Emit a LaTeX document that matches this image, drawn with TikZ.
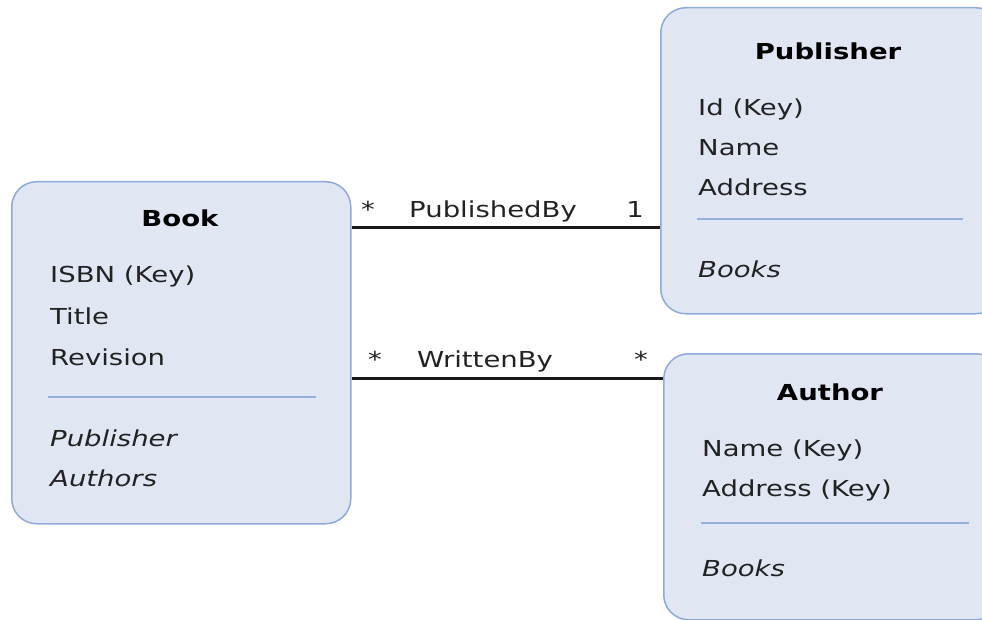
\documentclass[tikz,border=0pt]{standalone}
\usepackage{fontspec}
\setmainfont{DejaVu Sans}[FakeStretch=1.25]
\definecolor{boxfill}{RGB}{224,231,243}
\definecolor{boxborder}{RGB}{143,170,218}
\definecolor{sepcolor}{RGB}{150,176,220}
\definecolor{txt}{RGB}{34,34,34}
\definecolor{linecolor}{RGB}{25,25,25}
\newcommand{\diafont}{\fontsize{22}{26}\selectfont}
\tikzset{
  entity/.style={draw=boxborder, fill=boxfill, line width=1.5pt, rounded corners=25pt, anchor=north west, inner sep=0pt},
  attr/.style={anchor=base west, inner sep=0pt, font=\diafont, text=txt},
  nav/.style={anchor=base west, inner sep=0pt, font=\diafont\itshape, text=txt},
  ttl/.style={anchor=base, inner sep=0pt, font=\diafont\bfseries, text=black},
  lbl/.style={anchor=base, inner sep=0pt, font=\diafont, text=txt},
  sepline/.style={draw=sepcolor, line width=2pt},
  assoc/.style={draw=linecolor, line width=3pt},
}
\begin{document}
\begin{tikzpicture}[x=1pt,y=-1pt]
\useasboundingbox (0,0) rectangle (982,620);
\clip (0,0) rectangle (982,620);
% boxes
\node[entity, minimum width=339pt, minimum height=342pt] (book) at (11,181) {};
\node[entity, minimum width=340pt, minimum height=306pt] (pub) at (660,7) {};
\node[entity, minimum width=337pt, minimum height=266pt] (auth) at (663,353) {};
% Book
\node[ttl] (bookT) at (180,227) {Book};
\node[attr] (b1) at (50,283) {ISBN (Key)};
\node[attr] (b2) at (50,324) {Title};
\node[attr] (b3) at (50,365) {Revision};
\draw[sepline] (48,397) -- (316,397);
\node[nav] (b4) at (50,446) {Publisher};
\node[nav] (b5) at (50,486) {Authors};
% Publisher
\node[ttl] (pubT) at (828,60) {Publisher};
\node[attr] (p1) at (698,116) {Id (Key)};
\node[attr] (p2) at (698,156) {Name};
\node[attr] (p3) at (698,196) {Address};
\draw[sepline] (697,219) -- (963,219);
\node[nav] (p4) at (698,277) {Books};
% Author
\node[ttl] (authT) at (830,400) {Author};
\node[attr] (a1) at (702,456) {Name (Key)};
\node[attr] (a2) at (702,496) {Address (Key)};
\draw[sepline] (701,523) -- (969,523);
\node[nav] (a3) at (702,576) {Books};
% connectors
\draw[assoc] (book.east |- 0,228) -- (pub.west |- 0,228);
\draw[assoc] (book.east |- 0,378) -- (auth.west |- 0,378);
\node[lbl] (m1) at (368,218) {*};
\node[lbl] (r1) at (493,218) {PublishedBy};
\node[lbl] (n1) at (635,218) {1};
\node[lbl] (m2) at (375,367) {*};
\node[lbl] (r2) at (485,367) {WrittenBy};
\node[lbl] (m3) at (641,367) {*};
\end{tikzpicture}
\end{document}
